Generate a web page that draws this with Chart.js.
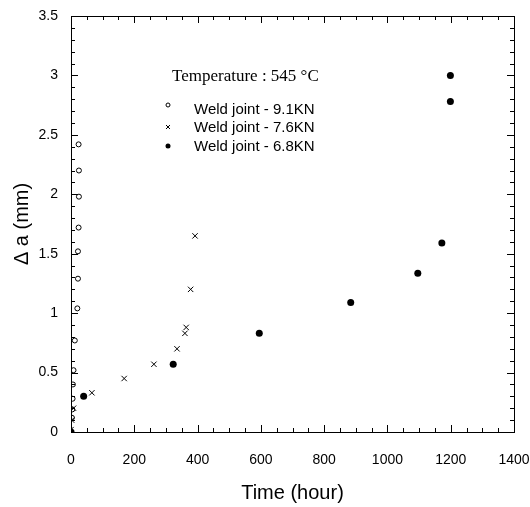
<!DOCTYPE html>
<html>
<head>
<meta charset="utf-8">
<script src="https://cdn.jsdelivr.net/npm/chart.js@4"></script>
<style>
  html, body { margin: 0; padding: 0; background: #fff; }
  #wrap { width: 530px; height: 507px; }
</style>
</head>
<body>
<div id="wrap"><canvas id="myChart" width="530" height="507"></canvas></div>
<script>
// values (time in hours, crack growth in mm)
const joint91Time = [3, 4, 5, 6, 8, 12, 20, 22, 22, 24, 25, 25, 24]
const joint91Da   = [0.12, 0.19, 0.28, 0.40, 0.52, 0.77, 1.04, 1.29, 1.52, 1.72, 1.98, 2.20, 2.42]

const joint76Time = [0, 2, 8, 66, 168, 262, 335, 360, 364, 378, 392]
const joint76Da   = [0.02, 0.10, 0.20, 0.33, 0.45, 0.57, 0.70, 0.83, 0.88, 1.20, 1.65]

const joint68Time = [0, 40, 323, 595, 884, 1096, 1172, 1199, 1199]
const joint68Da   = [0, 0.30, 0.57, 0.83, 1.09, 1.335, 1.59, 2.78, 3.0]

const xTicks = [0, 200, 400, 600, 800, 1000, 1200, 1400]
const yTicks = [0, 0.5, 1, 1.5, 2, 2.5, 3, 3.5]

const legendTitle = "Temperature : 545 °C"
const seriesNames = ["Weld joint - 9.1KN", "Weld joint - 7.6KN", "Weld joint - 6.8KN"]

function pares(xs, ys){
    return xs.map((x, i) => ({x: x, y: ys[i]}))
}

// frame with inward ticks on all four sides, like the original plot
const marco = {
    id: 'marco',
    afterDatasetsDraw(chart){
        const ctx = chart.ctx
        const a = chart.chartArea
        const sx = chart.scales.x
        const sy = chart.scales.y
        ctx.save()
        ctx.strokeStyle = '#000'
        ctx.lineWidth = 1
        ctx.strokeRect(a.left + 0.5, a.top + 0.5, a.right - a.left, a.bottom - a.top)
        ctx.beginPath()
        for(let v = 0; v <= 1400; v += 50){
            const px = Math.round(sx.getPixelForValue(v)) + 0.5
            const len = (v % 200 === 0) ? 7 : 4
            ctx.moveTo(px, a.bottom); ctx.lineTo(px, a.bottom - len)
            ctx.moveTo(px, a.top); ctx.lineTo(px, a.top + len)
        }
        for(let k = 0; k <= 35; k++){
            const py = Math.round(sy.getPixelForValue(k / 10)) + 0.5
            const len = (k % 5 === 0) ? 7 : 4
            ctx.moveTo(a.left, py); ctx.lineTo(a.left + len, py)
            ctx.moveTo(a.right, py); ctx.lineTo(a.right - len, py)
        }
        ctx.stroke()

        // legend inside the plot
        ctx.fillStyle = '#000'
        ctx.textBaseline = 'middle'
        ctx.textAlign = 'left'
        ctx.font = '17px "Liberation Serif", "Times New Roman", serif'
        ctx.fillText(legendTitle, 172, 77)
        ctx.font = '15px "Liberation Sans", Arial, sans-serif'
        const filas = [110, 128, 147]
        const marcas = [105, 127, 146]
        chart.data.datasets.forEach((ds, i) => {
            ctx.fillText(ds.label, 194, filas[i])
            const y = marcas[i]
            ctx.beginPath()
            if(i === 0){
                ctx.arc(168, y, 2, 0, Math.PI * 2)
                ctx.stroke()
            } else if(i === 1){
                ctx.moveTo(166, y - 2); ctx.lineTo(170, y + 2)
                ctx.moveTo(170, y - 2); ctx.lineTo(166, y + 2)
                ctx.stroke()
            } else {
                ctx.arc(168, y, 2.5, 0, Math.PI * 2)
                ctx.fill()
            }
        })
        ctx.restore()
    }
}

const data = {
    datasets: [
        {
            label: seriesNames[0],
            data: pares(joint91Time, joint91Da),
            pointStyle: 'circle',
            pointRadius: 2.5,
            borderColor: '#000',
            backgroundColor: 'rgba(0,0,0,0)',
            borderWidth: 1
        },
        {
            label: seriesNames[1],
            data: pares(joint76Time, joint76Da),
            pointStyle: 'crossRot',
            pointRadius: 3.8,
            borderColor: '#000',
            backgroundColor: '#000',
            borderWidth: 1
        },
        {
            label: seriesNames[2],
            data: pares(joint68Time, joint68Da),
            pointStyle: 'circle',
            pointRadius: 3.5,
            borderColor: '#000',
            backgroundColor: '#000',
            borderWidth: 0
        }
    ]
}

const config = {
    type: 'scatter',
    data: data,
    options: {
        responsive: false,
        animation: false,
        layout: { padding: { top: 16, right: 16, left: 0, bottom: 0 } },
        plugins: {
            legend: { display: false },
            tooltip: { enabled: false }
        },
        scales: {
            x: {
                type: 'linear',
                min: 0,
                max: 1400,
                afterBuildTicks: s => { s.ticks = xTicks.map(v => ({value: v})) },
                afterFit: s => { s.height = 75; s.paddingLeft = 0; s.paddingRight = 0 },
                grid: { display: false, drawTicks: false },
                border: { display: false },
                ticks: {
                    color: '#000',
                    padding: 20,
                    maxRotation: 0,
                    callback: v => String(v),
                    font: { family: '"Liberation Sans", Arial, sans-serif', size: 14 }
                },
                title: {
                    display: true,
                    text: 'Time (hour)',
                    color: '#000',
                    padding: { top: 6, bottom: 2 },
                    font: { family: '"Liberation Sans", Arial, sans-serif', size: 20 }
                }
            },
            y: {
                type: 'linear',
                min: 0,
                max: 3.5,
                afterBuildTicks: s => { s.ticks = yTicks.map(v => ({value: v})) },
                afterFit: s => { s.width = 71; s.paddingTop = 0; s.paddingBottom = 0 },
                grid: { display: false, drawTicks: false },
                border: { display: false },
                ticks: {
                    color: '#000',
                    padding: 13,
                    callback: v => String(v),
                    font: { family: '"Liberation Sans", Arial, sans-serif', size: 14 }
                },
                title: {
                    display: true,
                    text: 'Δ a (mm)',
                    color: '#000',
                    padding: { top: 10, bottom: 0 },
                    font: { family: '"Liberation Sans", Arial, sans-serif', size: 20 }
                }
            }
        }
    },
    plugins: [marco]
}

let myChart = new Chart(document.getElementById('myChart'), config)
</script>
</body>
</html>
